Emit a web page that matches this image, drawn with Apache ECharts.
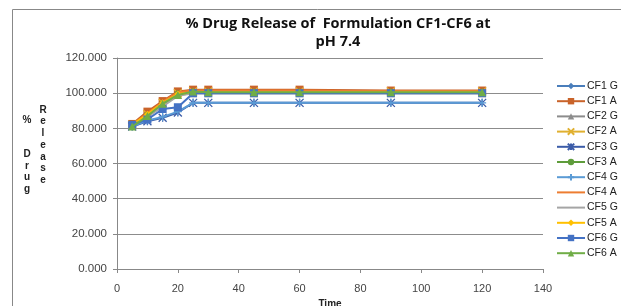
<!DOCTYPE html>
<html>
<head>
<meta charset="utf-8">
<script src="https://cdn.jsdelivr.net/npm/echarts@6/dist/echarts.min.js"></script>
<style>
  html, body { margin: 0; padding: 0; background: #fff; }
  #chart { width: 621px; height: 306px; }
</style>
</head>
<body>
<div id="chart"></div>
<script>
// sampling times (min)
const times = [5, 10, 15, 20, 25, 30, 45, 60, 90, 120];

// % release per formulation (G / A)
const cf1G = [82.0, 87.5, 93.5, 99.5, 100.5, 100.5, 100.5, 100.5, 100.5, 100.5];
const cf1A = [82.5, 89.5, 95.5, 101.0, 102.0, 102.0, 102.0, 102.0, 101.5, 101.5];
const cf2G = [81.5, 87.0, 93.0, 99.0, 100.0, 100.0, 100.0, 100.0, 100.0, 100.0];
const cf2A = [82.0, 88.0, 94.5, 100.0, 101.0, 101.0, 101.0, 101.0, 101.0, 101.0];
const cf3G = [81.0, 84.0, 86.0, 89.0, 94.5, 94.5, 94.5, 94.5, 94.5, 94.5];
const cf3A = [81.5, 87.5, 94.0, 99.5, 100.5, 100.5, 100.5, 100.5, 100.5, 100.5];
const cf4G = [81.0, 84.5, 86.5, 89.5, 94.5, 94.5, 94.5, 94.5, 94.5, 94.5];
const cf4A = [82.0, 88.5, 95.0, 100.5, 101.5, 101.5, 101.5, 101.5, 101.0, 101.0];
const cf5G = [81.5, 86.5, 92.5, 98.5, 100.0, 100.0, 100.0, 100.0, 100.0, 100.0];
const cf5A = [82.0, 88.0, 94.5, 99.5, 100.5, 100.5, 100.5, 100.5, 100.5, 100.5];
const cf6G = [82.0, 85.0, 91.0, 92.0, 100.0, 100.0, 100.0, 100.0, 100.0, 100.0];
const cf6A = [81.0, 87.0, 94.0, 99.0, 101.0, 100.5, 100.5, 100.5, 100.5, 100.5];

const seriesNames = ['CF1 G', 'CF1 A', 'CF2 G', 'CF2 A', 'CF3 G', 'CF3 A',
                     'CF4 G', 'CF4 A', 'CF5 G', 'CF5 A', 'CF6 G', 'CF6 A'];
const seriesValues = [cf1G, cf1A, cf2G, cf2A, cf3G, cf3A, cf4G, cf4A, cf5G, cf5A, cf6G, cf6A];

const colors = ['#4a7ebb', '#c9632a', '#8c8c8c', '#e0b030', '#3b5ca8', '#5e9c3b',
                '#5b9bd5', '#ed7d31', '#a5a5a5', '#ffc000', '#4472c4', '#70ad47'];

const crossPath = 'path://M0,0L10,10M10,0L0,10';
const starPath = 'path://M0,0L10,10M10,0L0,10M5,0L5,10';
const plusPath = 'path://M5,0L5,10M0,5L10,5';
const linePath = 'path://M0,0L28,0L28,2L0,2Z';
const symbols = ['diamond', 'rect', 'triangle', crossPath, starPath, 'circle',
                 plusPath, 'none', 'none', 'diamond', 'rect', 'triangle'];
const symbolSizes = [7, 8, 8, 8, 8, 7, 8, 0, 0, 7, 8, 8];

const chart = echarts.init(document.getElementById('chart'));

const series = seriesNames.map((name, i) => {
  const stroke = symbols[i].startsWith('path://');
  return {
    name,
    type: 'line',
    data: times.map((t, j) => [t, seriesValues[i][j]]),
    symbol: symbols[i],
    symbolSize: symbolSizes[i],
    showSymbol: symbols[i] !== 'none',
    lineStyle: { width: 2, color: colors[i] },
    itemStyle: stroke
      ? { color: colors[i], borderColor: colors[i], borderWidth: 1.3 }
      : { color: colors[i], borderWidth: 0 },
    emphasis: { disabled: true },
    z: 2 + i
  };
});

const legendData = seriesNames.map((name, i) =>
  symbols[i] === 'none' ? { name, icon: linePath } : { name });

// vertical stacked axis title letters
const yTitleCol1 = ['%', '', '', 'D', 'r', 'u', 'g'];
const yTitleCol2 = ['R', 'e', 'l', 'e', 'a', 's', 'e'];
const graphics = [{
  type: 'rect',
  shape: { x: 12.5, y: 9.5, width: 620, height: 310 },
  style: { fill: 'none', stroke: '#888', lineWidth: 1 },
  silent: true
}];
yTitleCol1.forEach((ch, i) => {
  graphics.push({ type: 'text', x: 27, y: 120 + i * 11.5,
    style: { text: ch, font: 'bold 10px "Liberation Sans", sans-serif', fill: '#222', align: 'center', verticalAlign: 'middle' } });
});
yTitleCol2.forEach((ch, i) => {
  graphics.push({ type: 'text', x: 43, y: 110 + i * 11.7,
    style: { text: ch, font: 'bold 10px "Liberation Sans", sans-serif', fill: '#222', align: 'center', verticalAlign: 'middle' } });
});

chart.setOption({
  animation: false,
  title: {
    text: '% Drug Release of  Formulation CF1-CF6 at\npH 7.4',
    left: 333,
    top: 10,
    textAlign: 'center',
    textStyle: { fontFamily: '"Open Sans", sans-serif', fontSize: 14.5, fontWeight: 'bold', color: '#111', lineHeight: 18 }
  },
  grid: { left: 117, right: 78, top: 58, bottom: 37, outerBoundsMode: 'none', containLabel: false },
  legend: {
    orient: 'vertical',
    left: 556,
    top: 80.5,
    padding: 0,
    itemWidth: 28,
    itemHeight: 8,
    itemGap: 4.2,
    data: legendData,
    textStyle: { fontFamily: '"Liberation Sans", sans-serif', fontSize: 10.5, color: '#222', padding: [0, 0, 0, -3] }
  },
  xAxis: {
    type: 'value',
    min: 0, max: 140, interval: 20,
    name: 'Time',
    nameLocation: 'middle',
    nameGap: 29,
    nameTextStyle: { fontFamily: '"Liberation Sans", sans-serif', fontSize: 10, fontWeight: 'bold', color: '#222' },
    axisLine: { lineStyle: { color: '#888' } },
    axisTick: { show: true, length: 4, lineStyle: { color: '#888' } },
    axisLabel: { fontFamily: '"Liberation Sans", sans-serif', fontSize: 11, color: '#444', margin: 14 },
    splitLine: { show: false }
  },
  yAxis: {
    type: 'value',
    min: 0, max: 120, interval: 20,
    axisLine: { show: true, lineStyle: { color: '#888' } },
    axisTick: { show: true, length: 4, lineStyle: { color: '#888' } },
    axisLabel: { fontFamily: '"Liberation Sans", sans-serif', fontSize: 11.5, color: '#444', margin: 10,
                 formatter: v => v.toFixed(3) },
    splitLine: { lineStyle: { color: '#8c8c8c', width: 1 } }
  },
  graphic: graphics,
  series
});
</script>
</body>
</html>
